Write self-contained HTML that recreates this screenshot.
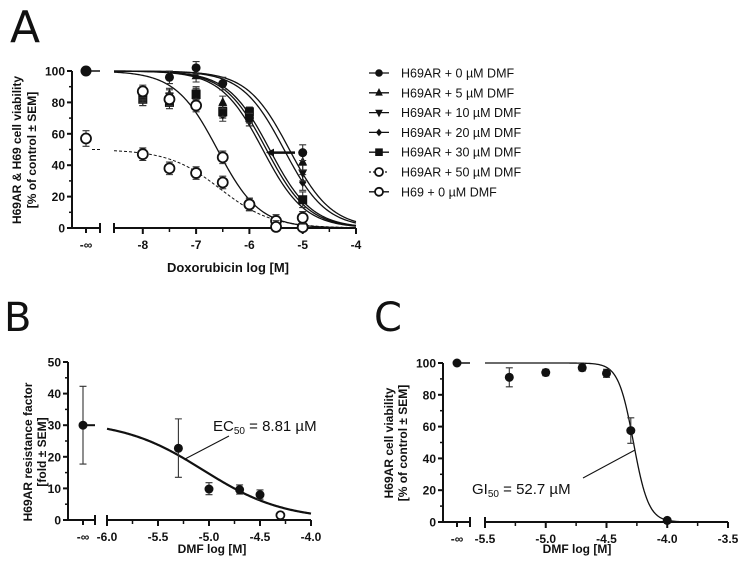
<!DOCTYPE html>
<html><head><meta charset="utf-8">
<style>
html,body{margin:0;padding:0;background:#fff;}
svg{display:block;font-family:"Liberation Sans",Arial,sans-serif;}
.tk{font-size:12px;font-weight:bold;fill:#111;}
.tt{font-size:12px;font-weight:bold;fill:#111;}
.lg{font-size:12.5px;fill:#111;}
.ann{font-size:15px;fill:#111;}
.pl{font-size:44px;fill:#111;font-family:"DejaVu Sans","Liberation Sans",sans-serif;}
</style></head>
<body>
<svg id="chart" width="743" height="568" viewBox="0 0 743 568" xmlns="http://www.w3.org/2000/svg">
<text class="pl" x="10" y="42">A</text>
<text class="pl" x="4" y="331" style="font-size:40px">B</text>
<text class="pl" x="374" y="331" style="font-size:40px">C</text>
<g id="ga"></g>
<g id="gb"></g>
<g id="gc"></g>
</svg>
<script>
// ---- Panel A data ----
const aDoses = [-8, -7.5, -7, -6.5, -6, -5];
const aSeries = ["H69AR + 0 µM DMF","H69AR + 5 µM DMF","H69AR + 10 µM DMF","H69AR + 20 µM DMF","H69AR + 30 µM DMF","H69AR + 50 µM DMF","H69 + 0 µM DMF"];
const aDmf0 = [85, 96, 102, 92, 70, 48];
const aDmf5 = [86, 85, 97, 80, 70, 42];
const aDmf10 = [84, 84, 86, 75, 68, 35];
const aDmf20 = [82, 82, 84, 72, 68, 29];
const aDmf30 = [82, 80, 85, 74, 74, 18];
const aDoses50 = [-8, -7.5, -7, -6.5, -6, -5.5, -5];
const aDmf50 = [47, 38, 35, 29, 15, 4.5, 0.5];
const aH69 = [87, 82, 78, 45, 15, 0.7, 6.5];
const aErr = [4, 4, 4, 4, 3, 5];
const aInf0 = 100, aInf50 = 57;
const aIC50 = [-5.25, -5.35, -5.62, -5.68, -5.75, -6.55, -6.6];
const aTop = [100, 100, 100, 100, 100, 50, 100];
const aHill = [1.1, 1.1, 1.1, 1.1, 1.1, 0.9, 1.1];
const aXTicks = [-8, -7, -6, -5, -4];
const aYTicks = [0, 20, 40, 60, 80, 100];
// ---- Panel B data ----
const bDoses = [-5.3, -5.0, -4.7, -4.5];
const bVals = [22.7, 9.8, 9.6, 8.0];
const bLo = [13.5, 8.0, 8.2, 6.6];
const bHi = [32, 11.8, 11.1, 9.5];
const bOpenDose = [-4.3], bOpenVal = [1.5];
const bInf = 30, bInfLo = 17.7, bInfHi = 42.3;
const bTop = 31.5, bLogEC = -5.055, bHill = 1.1;
const bXTicks = [-6.0, -5.5, -5.0, -4.5, -4.0];
const bYTicks = [0, 10, 20, 30, 40, 50];
// ---- Panel C data ----
const cDoses = [-5.3, -5.0, -4.7, -4.5, -4.3, -4.0];
const cVals = [91, 94, 97, 93.5, 57.5, 1];
const cLo = [85, 92, 95, 91, 49.5, 0];
const cHi = [97, 96, 99, 96, 65.5, 2];
const cInf = 100;
const cLogGI = -4.278, cHill = 7;
const cXTicks = [-5.5, -5.0, -4.5, -4.0, -3.5];
const cYTicks = [0, 20, 40, 60, 80, 100];

const NS = "http://www.w3.org/2000/svg";
function mk(parent, tag, attrs, name) {
  const e = document.createElementNS(NS, tag);
  for (const k in attrs) e.setAttribute(k, attrs[k]);
  
  
  parent.appendChild(e); return e;
}
function txt(parent, x, y, s, cls, anchor, name, extra) {
  const t = mk(parent, 'text', Object.assign({x: x, y: y, class: cls, 'text-anchor': anchor || 'middle'}, extra || {}), name);
  t.textContent = s; return t;
}
function hill(x, top, ic, h) { return top / (1 + Math.pow(10, h * (x - ic))); }
function curve(g, xs, ys, x0, x1, f, attrs, name) {
  let d = "";
  for (let i = 0; i <= 200; i++) { const v = x0 + (x1 - x0) * i / 200; d += (i ? "L" : "M") + xs(v).toFixed(2) + "," + ys(f(v)).toFixed(2); }
  mk(g, 'path', Object.assign({d: d, fill: 'none', stroke: '#111', 'stroke-width': 1.3}, attrs || {}), name);
}
function marker(g, type, cx, cy, r, name) {
  if (type === 'circle') mk(g, 'circle', {cx: cx, cy: cy, r: r, fill: '#111'}, name);
  else if (type === 'open') mk(g, 'circle', {cx: cx, cy: cy, r: r, fill: '#fff', stroke: '#111', 'stroke-width': 1.8}, name);
  else if (type === 'up') mk(g, 'polygon', {points: `${cx},${cy - r - 1} ${cx - r},${cy + r - 1} ${cx + r},${cy + r - 1}`, fill: '#111'}, name);
  else if (type === 'down') mk(g, 'polygon', {points: `${cx},${cy + r + 1} ${cx - r},${cy - r + 1} ${cx + r},${cy - r + 1}`, fill: '#111'}, name);
  else if (type === 'diamond') mk(g, 'polygon', {points: `${cx},${cy - r} ${cx + r * 0.8},${cy} ${cx},${cy + r} ${cx - r * 0.8},${cy}`, fill: '#111'}, name);
  else if (type === 'square') mk(g, 'rect', {x: cx - r, y: cy - r, width: 2 * r, height: 2 * r, fill: '#111'}, name);
}
function errbar(g, x, y1, y2, name) {
  mk(g, 'path', {d: `M${x},${y1}L${x},${y2}M${x - 3.5},${y1}L${x + 3.5},${y1}M${x - 3.5},${y2}L${x + 3.5},${y2}`, stroke: '#333', 'stroke-width': 1.1, fill: 'none'}, name);
}
function axes(g, o) {
  // y axis
  const {xs, ys, yAxX, yTop, yBot, infX, seg1, seg2a, seg2b, xTicks, yTicks, minor, tickFmt, yMinor} = o;
  mk(g, 'line', {x1: yAxX, y1: yTop, x2: yAxX, y2: yBot + 1, stroke: '#111', 'stroke-width': 2}, 'y-axis-line');
  yTicks.forEach(v => {
    mk(g, 'line', {x1: yAxX - 5, y1: ys(v), x2: yAxX, y2: ys(v), stroke: '#111', 'stroke-width': 2}, 'y-tick');
    txt(g, yAxX - 7, ys(v) + 4.5, String(v), 'tk', 'end', 'y-tick-label');
  });
  yMinor.forEach(v => mk(g, 'line', {x1: yAxX - 3, y1: ys(v), x2: yAxX, y2: ys(v), stroke: '#111', 'stroke-width': 1.5}, 'y-minor-tick'));
  // x axis segments
  mk(g, 'line', {x1: yAxX, y1: yBot, x2: seg1, y2: yBot, stroke: '#111', 'stroke-width': 2}, 'x-axis-inf-segment');
  mk(g, 'line', {x1: seg1, y1: yBot - 5, x2: seg1, y2: yBot + 5, stroke: '#111', 'stroke-width': 2}, 'x-axis-break');
  mk(g, 'line', {x1: infX, y1: yBot, x2: infX, y2: yBot + 5, stroke: '#111', 'stroke-width': 2}, 'x-tick-inf');
  txt(g, infX, yBot + 21, '-∞', 'tk', 'middle', 'x-tick-label-inf');
  mk(g, 'line', {x1: seg2a, y1: yBot, x2: seg2b, y2: yBot, stroke: '#111', 'stroke-width': 2}, 'x-axis-line');
  mk(g, 'line', {x1: seg2a, y1: yBot - 5, x2: seg2a, y2: yBot + 5, stroke: '#111', 'stroke-width': 2}, 'x-axis-break');
  xTicks.forEach(v => {
    mk(g, 'line', {x1: xs(v), y1: yBot, x2: xs(v), y2: yBot + 6, stroke: '#111', 'stroke-width': 2}, 'x-tick');
    txt(g, xs(v), yBot + 21, tickFmt(v), 'tk', 'middle', 'x-tick-label');
  });
  minor.forEach(v => mk(g, 'line', {x1: xs(v), y1: yBot, x2: xs(v), y2: yBot + 4, stroke: '#111', 'stroke-width': 1.5}, 'x-minor-tick'));
}

// ===== Panel A =====
(function () {
  const g = document.getElementById('ga');
  const xs = v => 356 + (v + 4) * 53.3;
  const ys = v => 228 - v * 1.57;
  axes(g, {xs, ys, yAxX: 72, yTop: 71, yBot: 228, infX: 86, seg1: 100, seg2a: 114, seg2b: 356,
    xTicks: aXTicks, yTicks: aYTicks, minor: [-7.5, -6.5, -5.5, -4.5], yMinor: [10, 30, 50, 70, 90],
    tickFmt: v => String(v)});
  const x0 = -8.54;
  const types = ['circle', 'up', 'down', 'diamond', 'square', 'open', 'open'];
  for (let i = 0; i < 7; i++) {
    curve(g, xs, ys, x0, -4, v => hill(v, aTop[i], aIC50[i], aHill[i]), i === 5 ? {'stroke-dasharray': '3,2', 'stroke-width': 1} : {}, 'fit-curve-' + i);
  }
  mk(g, 'line', {x1: 86, y1: ys(aInf0), x2: 100, y2: ys(aInf0), stroke: '#111', 'stroke-width': 1.5}, 'inf-line-0dmf');
  mk(g, 'line', {x1: 92, y1: ys(50), x2: 100, y2: ys(50), stroke: '#111', 'stroke-width': 1, 'stroke-dasharray': '3,2'}, 'inf-line-50dmf');
  const arrays = [aDmf0, aDmf5, aDmf10, aDmf20, aDmf30];
  for (let i = 4; i >= 0; i--) {
    arrays[i].forEach((v, j) => {
      errbar(g, xs(aDoses[j]), ys(v + aErr[j]), ys(v - aErr[j]), 'error-bar');
      marker(g, types[i], xs(aDoses[j]), ys(v), 4.5, 'point-series-' + i);
    });
  }
  errbar(g, 86, ys(aInf50 + 5), ys(aInf50 - 5), 'error-bar');
  marker(g, 'open', 86, ys(aInf50), 5, 'point-50dmf-inf');
  marker(g, 'circle', 86, ys(aInf0), 5.5, 'point-0dmf-inf');
  aDmf50.forEach((v, j) => { errbar(g, xs(aDoses50[j]), ys(v + 4), ys(Math.max(v - 4, 0)), 'error-bar'); marker(g, 'open', xs(aDoses50[j]), ys(v), 5, 'point-50dmf'); });
  aH69.forEach((v, j) => { errbar(g, xs(aDoses50[j]), ys(v + 4), ys(Math.max(v - 4, 0)), 'error-bar'); marker(g, 'open', xs(aDoses50[j]), ys(v), 5, 'point-h69'); });
  // arrow
  mk(g, 'line', {x1: 295, y1: ys(48), x2: 272, y2: ys(48), stroke: '#111', 'stroke-width': 2.5}, 'shift-arrow-line');
  mk(g, 'polygon', {points: `266,${ys(48)} 274,${ys(48) - 4} 274,${ys(48) + 4}`, fill: '#111'}, 'shift-arrow-head');
  txt(g, 228, 272, 'Doxorubicin log [M]', 'tt', 'middle', 'x-axis-title', {style: 'font-size:13px'});
  const yt = mk(g, 'g', {transform: 'translate(25,150) rotate(-90)'}, 'y-axis-title');
  txt(yt, 0, -4, 'H69AR & H69 cell viability', 'tt', 'middle', 'y-axis-title-line1');
  txt(yt, 0, 11, '[% of control ± SEM]', 'tt', 'middle', 'y-axis-title-line2');
  // legend
  const lg = mk(g, 'g', {}, 'legend');
  aSeries.forEach((s, i) => {
    const y = 73 + i * 19.8;
    mk(lg, 'line', {x1: 369, y1: y, x2: 389, y2: y, stroke: '#111', 'stroke-width': 1.3, 'stroke-dasharray': i === 5 ? '2,2' : 'none'}, 'legend-line');
    marker(lg, types[i], 379, y, i >= 5 ? 4 : 3.8, 'legend-marker');
    txt(lg, 401, y + 4.5, s, 'lg', 'start', 'legend-entry');
  });
})();

// ===== Panel B =====
(function () {
  const g = document.getElementById('gb');
  const xs = v => 107 + (v + 6) * 102;
  const ys = v => 520 - v * 3.16;
  axes(g, {xs, ys, yAxX: 68, yTop: 362, yBot: 520, infX: 83, seg1: 95, seg2a: 107, seg2b: 311,
    xTicks: bXTicks, yTicks: bYTicks, minor: [-5.75, -5.25, -4.75, -4.25], yMinor: [5, 15, 25, 35, 45],
    tickFmt: v => v.toFixed(1)});
  curve(g, xs, ys, -6, -4, v => hill(v, bTop, bLogEC, bHill), {'stroke-width': 2.2}, 'fit-curve');
  mk(g, 'line', {x1: 83, y1: ys(bInf), x2: 95, y2: ys(bInf), stroke: '#111', 'stroke-width': 2}, 'inf-line');
  errbar(g, 83, ys(bInfHi), ys(bInfLo), 'error-bar');
  marker(g, 'circle', 83, ys(bInf), 4.5, 'point-inf');
  bDoses.forEach((d, j) => { errbar(g, xs(d), ys(bHi[j]), ys(bLo[j]), 'error-bar'); marker(g, 'circle', xs(d), ys(bVals[j]), 4.5, 'point'); });
  bOpenDose.forEach((d, j) => marker(g, 'open', xs(d), ys(bOpenVal[j]), 4, 'point-open'));
  mk(g, 'line', {x1: 185, y1: 459, x2: 229, y2: 436, stroke: '#111', 'stroke-width': 1}, 'ec50-leader-line');
  const t = txt(g, 213, 431, 'EC', 'ann', 'start', 'ec50-annotation');
  const sub = document.createElementNS(NS, 'tspan'); sub.setAttribute('font-size', '10'); sub.setAttribute('dy', '3'); sub.textContent = '50'; t.appendChild(sub);
  const rest = document.createElementNS(NS, 'tspan'); rest.setAttribute('dy', '-3'); rest.textContent = ' = 8.81 µM'; t.appendChild(rest);
  txt(g, 212, 553, 'DMF log [M]', 'tt', 'middle', 'x-axis-title');
  const yt = mk(g, 'g', {transform: 'translate(33,452) rotate(-90)'}, 'y-axis-title');
  txt(yt, 0, -1, 'H69AR resistance factor', 'tt', 'middle', 'y-axis-title-line1');
  txt(yt, 0, 13, '[fold ± SEM]', 'tt', 'middle', 'y-axis-title-line2');
})();

// ===== Panel C =====
(function () {
  const g = document.getElementById('gc');
  const xs = v => 485 + (v + 5.5) * 121.5;
  const ys = v => 522 - v * 1.59;
  axes(g, {xs, ys, yAxX: 443, yTop: 363, yBot: 522, infX: 457, seg1: 470, seg2a: 485, seg2b: 728,
    xTicks: cXTicks, yTicks: cYTicks, minor: [-5.25, -4.75, -4.25, -3.75], yMinor: [10, 30, 50, 70, 90],
    tickFmt: v => v.toFixed(1)});
  curve(g, xs, ys, -5.5, -3.5, v => hill(v, 100, cLogGI, cHill), {'stroke-width': 1.3}, 'fit-curve');
  mk(g, 'line', {x1: 457, y1: ys(cInf), x2: 470, y2: ys(cInf), stroke: '#111', 'stroke-width': 1.5}, 'inf-line');
  marker(g, 'circle', 457, ys(cInf), 4.5, 'point-inf');
  cDoses.forEach((d, j) => { errbar(g, xs(d), ys(cHi[j]), ys(cLo[j]), 'error-bar'); marker(g, 'circle', xs(d), ys(cVals[j]), 4.5, 'point'); });
  mk(g, 'line', {x1: 583, y1: 478, x2: 635, y2: 450, stroke: '#111', 'stroke-width': 1}, 'gi50-leader-line');
  const t = txt(g, 472, 494, 'GI', 'ann', 'start', 'gi50-annotation');
  const sub = document.createElementNS(NS, 'tspan'); sub.setAttribute('font-size', '10'); sub.setAttribute('dy', '3'); sub.textContent = '50'; t.appendChild(sub);
  const rest = document.createElementNS(NS, 'tspan'); rest.setAttribute('dy', '-3'); rest.textContent = ' = 52.7 µM'; t.appendChild(rest);
  txt(g, 577, 553, 'DMF log [M]', 'tt', 'middle', 'x-axis-title');
  const yt = mk(g, 'g', {transform: 'translate(395,443) rotate(-90)'}, 'y-axis-title');
  txt(yt, 0, -2, 'H69AR cell viability', 'tt', 'middle', 'y-axis-title-line1');
  txt(yt, 0, 12, '[% of control ± SEM]', 'tt', 'middle', 'y-axis-title-line2');
})();
</script>
</body></html>
